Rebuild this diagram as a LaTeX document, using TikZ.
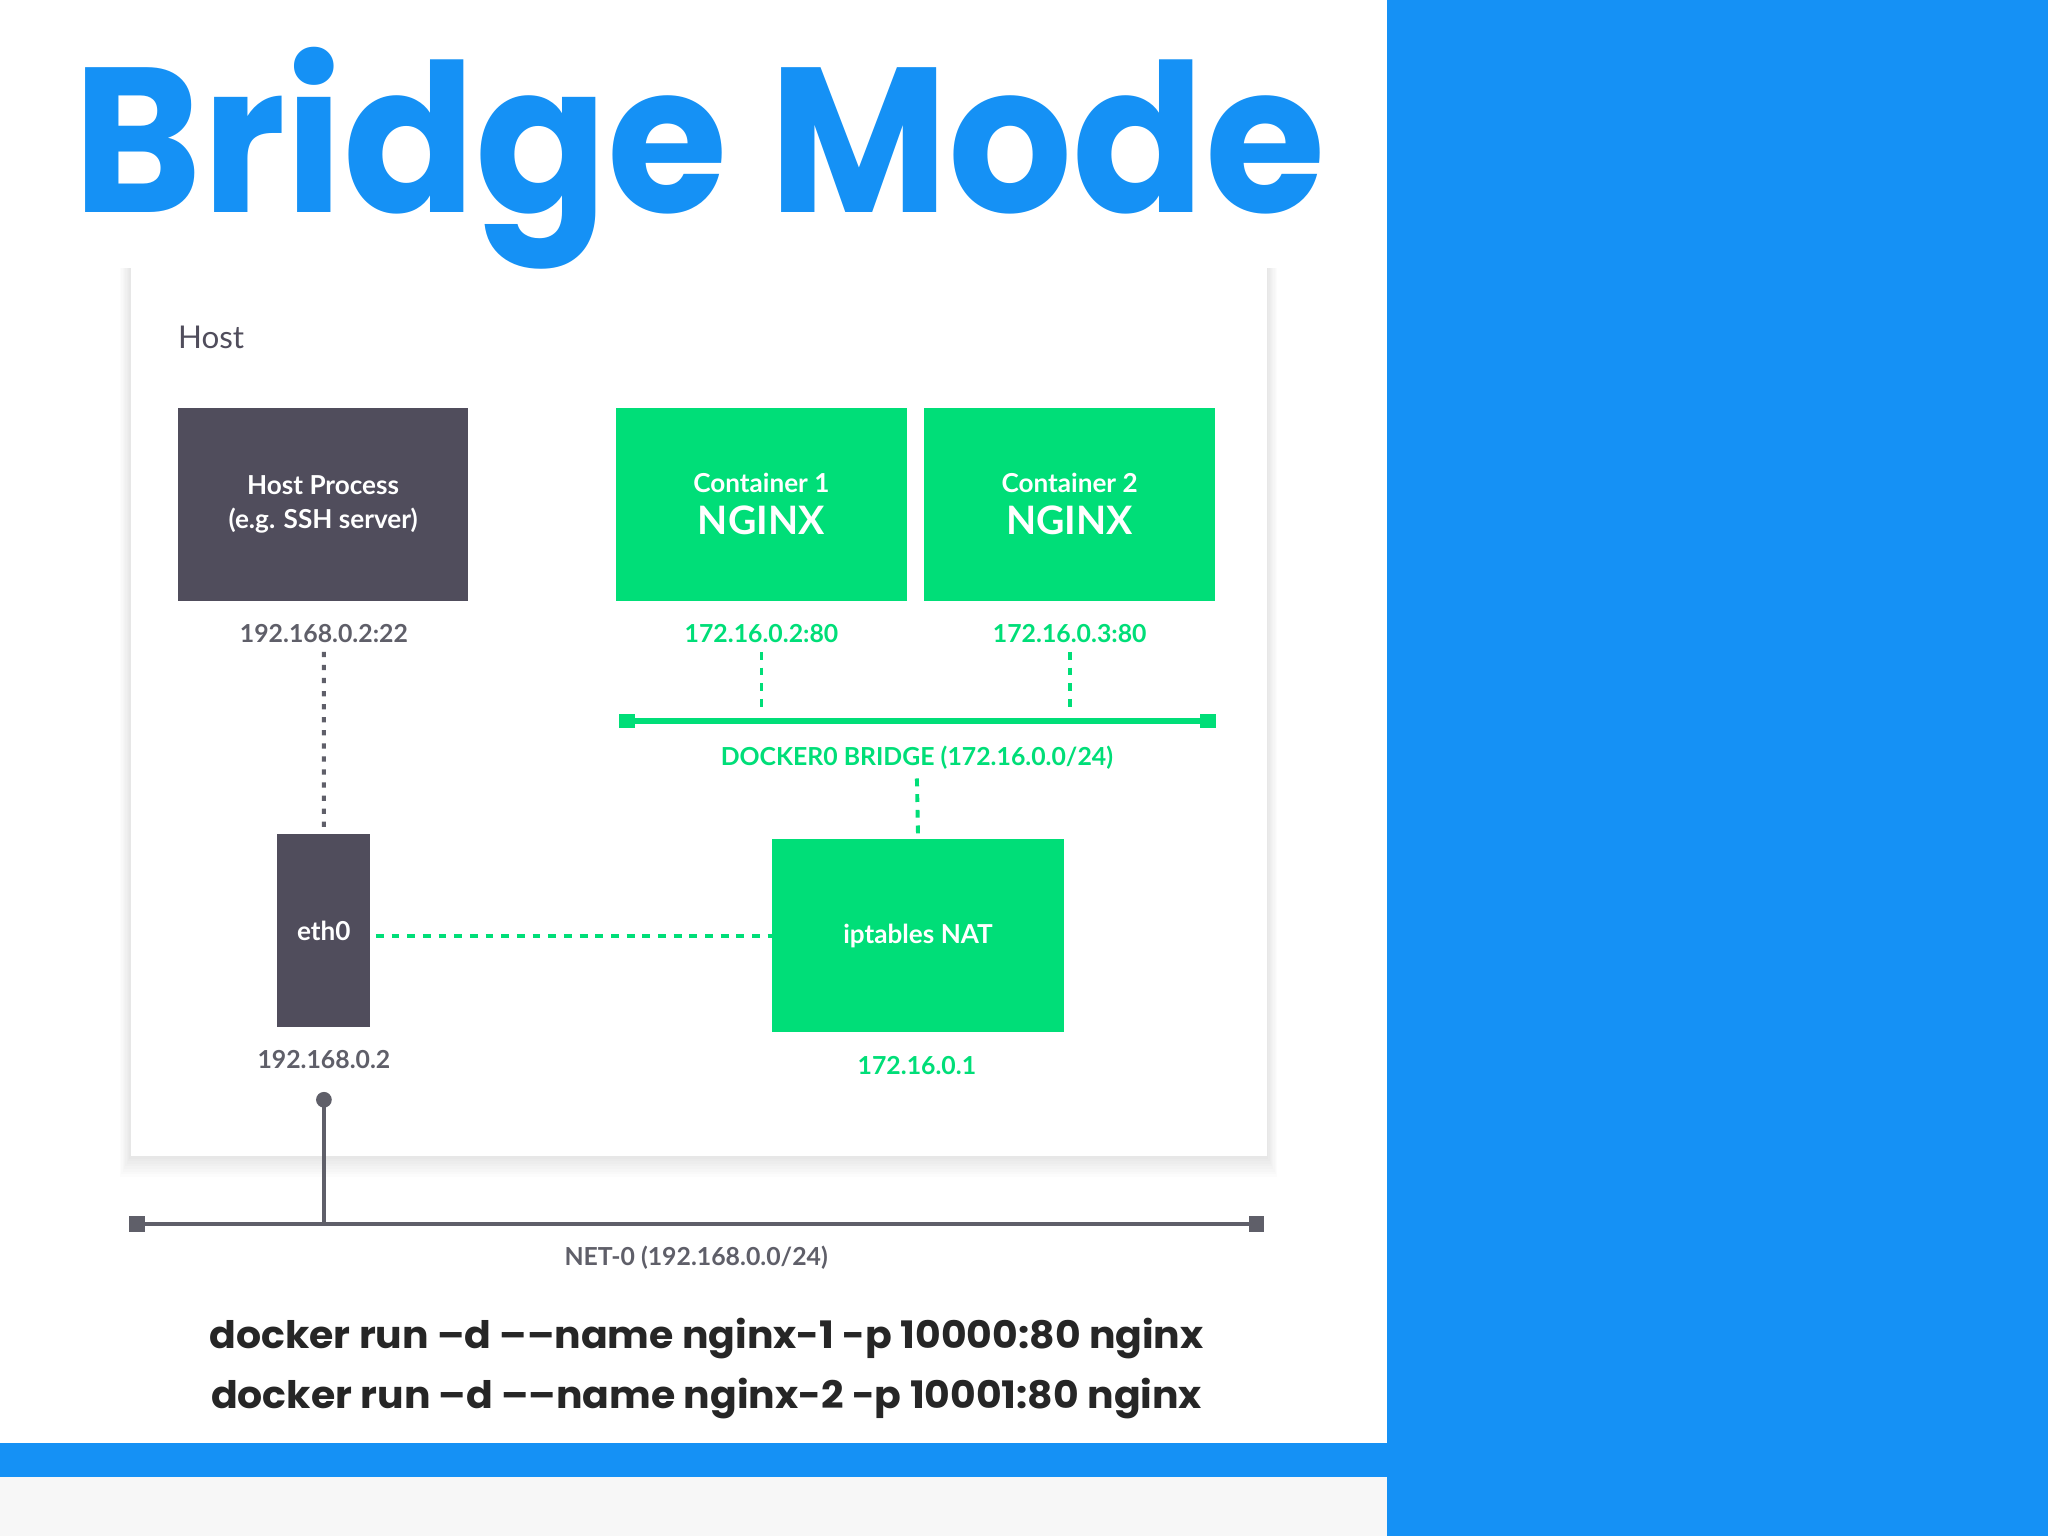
\documentclass[tikz,border=0pt]{standalone}
\usepackage{fontspec}
\setmainfont{Poppins}
\newfontfamily\lato{Lato}
\begin{document}
\definecolor{bblue}{RGB}{21,145,245}
\definecolor{dgreen}{RGB}{0,222,120}
\definecolor{dgray}{RGB}{80,77,92}
\definecolor{lgray}{RGB}{95,95,105}
\begin{tikzpicture}[x=0.5pt,y=-0.5pt,
 gbox/.style={fill=dgreen,draw=none,anchor=north west},
 hbox/.style={fill=dgray,draw=none,anchor=north west},
 wt/.style={text=white,font=\lato\bfseries\fontsize{10}{13}\selectfont,align=center},
 glab/.style={text=dgreen,font=\lato\bfseries\fontsize{9.5}{11}\selectfont},
 klab/.style={text=lgray,font=\lato\bfseries\fontsize{9.5}{11}\selectfont},
 gdot/.style={dgreen,line width=1.5pt,dash pattern=on 3pt off 3pt},
 kdot/.style={lgray,line width=1.5pt,dash pattern=on 2pt off 3pt}]
\useasboundingbox (0,0) rectangle (1568,1176);
\fill[white] (0,0) rectangle (1568,1176);
\fill[bblue] (1062,0) rectangle (1568,1176);
\fill[bblue] (0,1105) rectangle (1062,1131);
\fill[black!3] (0,1131) rectangle (1062,1176);
% card shadow
\foreach \i in {1,...,8} {\fill[black,opacity=0.012] (100-\i,205) rectangle (970+\i,885+2*\i);}
\fill[white] (100,205) rectangle (970,885);
\node[anchor=base west,text=bblue,font=\bfseries\fontsize{79}{80}\selectfont,inner sep=0,xscale=0.945] (title) at (56,163) {Bridge Mode};
\node[anchor=west,text=dgray,font=\lato\fontsize{12}{14}\selectfont,inner sep=0] (host) at (136,258) {Host};
\node[hbox,minimum width=111pt,minimum height=74pt] (hp) at (136,312) {};
\node[wt] at (hp.center) {Host Process\\(e.g. SSH server)};
\node[gbox,minimum width=111.5pt,minimum height=74pt] (c1) at (471,312) {};
\node[gbox,minimum width=111.5pt,minimum height=74pt] (c2) at (707,312) {};
\node[wt,anchor=south] at ([yshift=1pt]c1.center) {Container 1};
\node[wt,anchor=north,font=\lato\bfseries\fontsize{15}{16}\selectfont] at ([yshift=3pt]c1.center) {NGINX};
\node[wt,anchor=south] at ([yshift=1pt]c2.center) {Container 2};
\node[wt,anchor=north,font=\lato\bfseries\fontsize{15}{16}\selectfont] at ([yshift=3pt]c2.center) {NGINX};
\node[klab] (l1) at (248,485) {192.168.0.2:22};
\node[glab] (l2) at (583,485) {172.16.0.2:80};
\node[glab] (l3) at (819,485) {172.16.0.3:80};
\node[hbox,minimum width=35.5pt,minimum height=74pt] (eth) at (212,638) {};
\node[wt] at (eth.center) {eth0};
\node[gbox,minimum width=111.5pt,minimum height=74pt] (nat) at (591,642) {};
\node[wt] at (nat.center) {iptables NAT};
\node[klab] (l4) at (248,811) {192.168.0.2};
\node[glab] (l5) at (702,816) {172.16.0.1};
% bridge
\coordinate (bl) at (480,552); \coordinate (br) at (925,552);
\draw[dgreen,line width=2pt] (bl) -- (br);
\fill[dgreen] (bl) +(-6,-5) rectangle +(6,5);
\fill[dgreen] (br) +(-6,-5) rectangle +(6,5);
\node[glab] (bridge) at (702,580) {DOCKER0 BRIDGE (172.16.0.0/24)};
\draw[gdot] (l2.south) -- (583,545);
\draw[gdot] (l3.south) -- (819,545);
\draw[gdot] (bridge.south) -- (nat.north);
\draw[kdot] (l1.south) -- (eth.north);
\draw[gdot] ([xshift=2pt]eth.east |- nat.west) -- (nat.west);
% net-0
\coordinate (nl) at (105,937); \coordinate (nr) at (962,937);
\coordinate (dot) at (248,842);
\draw[lgray,line width=1.5pt] (nl) -- (nr);
\fill[lgray] (nl) +(-6,-6) rectangle +(6,6);
\fill[lgray] (nr) +(-6,-6) rectangle +(6,6);
\fill[lgray] (dot) circle (6);
\draw[lgray,line width=1.5pt] (dot) -- (248,937);
\node[klab] (net) at (533,963) {NET-0 (192.168.0.0/24)};
\node[font=\bfseries\fontsize{14.5}{23}\selectfont,align=center,text=black!85,xscale=1.04] (cmd) at (541,1048) {docker run –d ––name nginx-1 -p 10000:80 nginx\\docker run –d ––name nginx-2 -p 10001:80 nginx};
\end{tikzpicture}
\end{document}
